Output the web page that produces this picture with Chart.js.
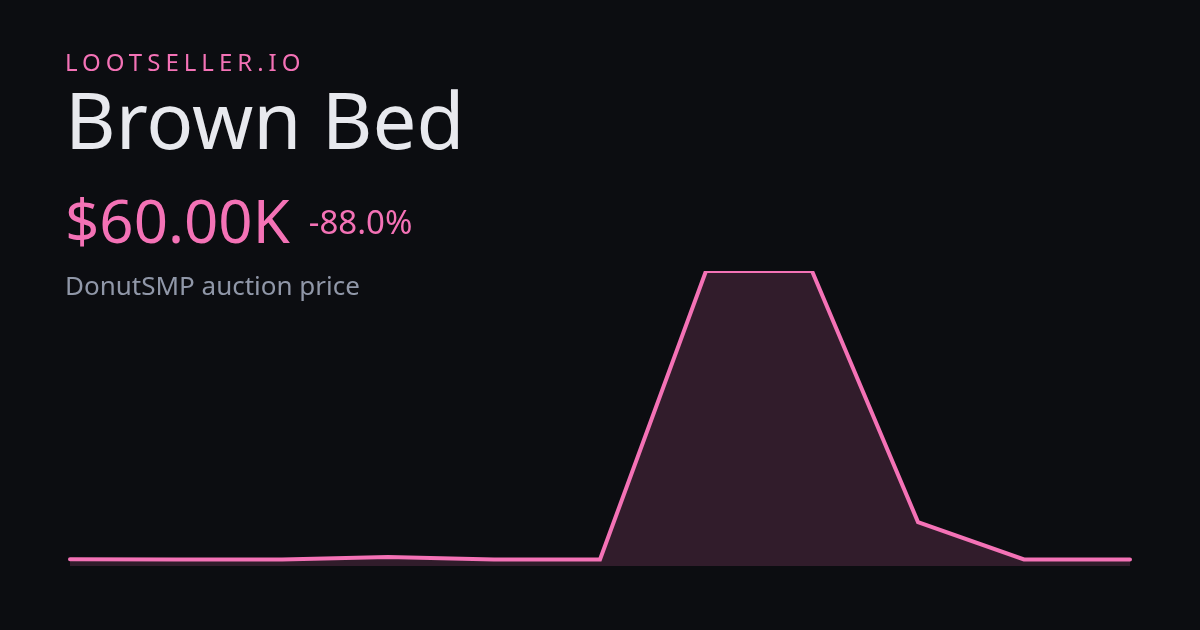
<!DOCTYPE html>
<html>
<head>
<meta charset="utf-8">
<script src="https://cdn.jsdelivr.net/npm/chart.js@4"></script>
<style>
	html, body {
		margin: 0;
		padding: 0;
		background: #0c0d11;
		width: 1200px;
		height: 630px;
		overflow: hidden;
		font-family: 'Noto Sans', sans-serif;
	}
	#wrap {
		position: absolute;
		left: 0;
		top: 0;
		width: 1200px;
		height: 630px;
	}
	.txt {
		position: absolute;
		left: 65px;
		white-space: nowrap;
		line-height: 1;
	}
	#brand {
		top: 50px;
		font-size: 24px;
		letter-spacing: 5px;
		color: #f472b6;
	}
	#title {
		top: 80px;
		font-size: 78px;
		color: #e8e9ee;
	}
	#price {
		top: 190px;
		font-size: 60px;
		color: #f472b6;
	}
	#change {
		font-size: 33px;
		margin-left: 19px;
		vertical-align: 9px;
	}
	#sub {
		top: 272px;
		font-size: 26px;
		color: #9097a8;
	}
</style>
</head>
<body>
<div id="wrap"><canvas id="grafico" width="1200" height="630"></canvas></div>
<div class="txt" id="brand">LOOTSELLER.IO</div>
<div class="txt" id="title">Brown Bed</div>
<div class="txt" id="price">$60.00K<span id="change">-88.0%</span></div>
<div class="txt" id="sub">DonutSMP auction price</div>
<script>
// price points (thousands of $)
const dias = ['1', '2', '3', '4', '5', '6', '7', '8', '9', '10', '11'];
const precos = [62, 60, 60, 83, 60, 60, 2720, 2720, 405, 60, 60];
const yMin = 0;
const yMax = 2720;

document.addEventListener('DOMContentLoaded', () => {
	new Chart(document.getElementById('grafico'), {
		type: 'line',
		data: {
			labels: dias,
			datasets: [
				{
					data: precos,
					borderColor: '#f472b6',
					borderWidth: 4,
					backgroundColor: 'rgba(244, 114, 182, 0.16)',
					fill: 'origin',
					tension: 0,
					pointRadius: 0,
					borderCapStyle: 'round',
				},
			],
		},
		options: {
			responsive: false,
			animation: false,
			layout: {
				padding: { left: 70, right: 70, top: 271, bottom: 64 },
			},
			plugins: {
				legend: { display: false },
				tooltip: { enabled: false },
			},
			scales: {
				x: { display: false, offset: false },
				y: { display: false, min: yMin, max: yMax },
			},
		},
	});
});
</script>
</body>
</html>
